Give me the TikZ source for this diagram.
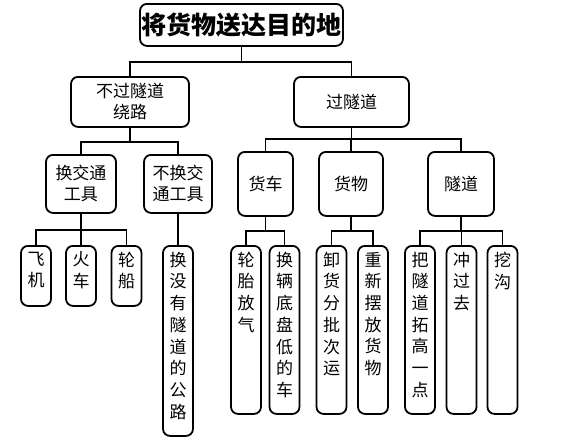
\documentclass[tikz,border=0pt]{standalone}
\usepackage{fontspec}
\setmainfont{Noto Sans CJK SC}
\newcommand\leaftext[2]{\parbox[c][#1][t]{22pt}{\centering #2}}

\begin{document}
\begin{tikzpicture}[x=1pt, y=-1pt,
	box/.style={draw, line width=1.8pt, rounded corners=7pt, anchor=north, align=center,
		inner sep=0pt, font=\fontsize{17pt}{21pt}\selectfont},
	leaf/.style={box, minimum width=30pt, inner ysep=6pt, font=\fontsize{17pt}{21.7pt}\selectfont},
	link/.style={line width=1.8pt}]
\useasboundingbox (0, 0) rectangle (571, 442);

\node [box, minimum width=203pt, minimum height=42pt, font=\fontsize{25pt}{30pt}\selectfont\bfseries]
	(goal) at (241.5, 3) {将货物送达目的地};

\node [box, minimum width=118pt, minimum height=50pt] (detour) at (130, 76) {不过隧道\\绕路};
\node [box, minimum width=115pt, minimum height=50pt] (tunnel) at (351.5, 76) {过隧道};

\node [box, minimum width=70pt, minimum height=58pt] (swap) at (81, 154) {换交通\\工具};
\node [box, minimum width=68pt, minimum height=58pt] (noswap) at (178, 154) {不换交\\通工具};
\node [box, minimum width=55pt, minimum height=64pt] (truck) at (265.5, 151) {货车};
\node [box, minimum width=64pt, minimum height=64pt] (cargo) at (351, 151) {货物};
\node [box, minimum width=66pt, minimum height=64pt] (bore) at (461, 151) {隧道};

\foreach \name/\x/\h/\txt in {
	plane/36/48/{飞\\机},
	train/81/48/{火\\车},
	ship/126.5/48/{轮\\船},
	road/178/178/{换\\没\\有\\隧\\道\\的\\公\\路},
	tyre/246/156/{轮\\胎\\放\\气},
	lowcar/284.5/156/{换\\辆\\底\\盘\\低\\的\\车},
	unload/331.5/156/{卸\\货\\分\\批\\次\\运},
	restack/373/156/{重\\新\\摆\\放\\货\\物},
	raise/420/156/{把\\隧\\道\\拓\\高\\一\\点},
	rush/461.5/156/{冲\\过\\去},
	ditch/502.5/156/{挖\\沟}
	} {
	\node [leaf] (\name) at (\x, 245) {\leaftext{\h pt}{\txt}};
}

\foreach \from/\to/\d in {
	goal/detour/15, goal/tunnel/15,
	detour/swap/14, detour/noswap/14,
	tunnel/truck/11, tunnel/cargo/11, tunnel/bore/11,
	swap/plane/16, swap/train/16, swap/ship/16,
	truck/tyre/14, truck/lowcar/14,
	cargo/unload/14, cargo/restack/14,
	bore/raise/14, bore/rush/14, bore/ditch/14
	} {
	\draw [link] (\from.south) -- ++(0, \d) -| (\to.north);
}
\draw [link] (noswap) -- (road);
\end{tikzpicture}
\end{document}
